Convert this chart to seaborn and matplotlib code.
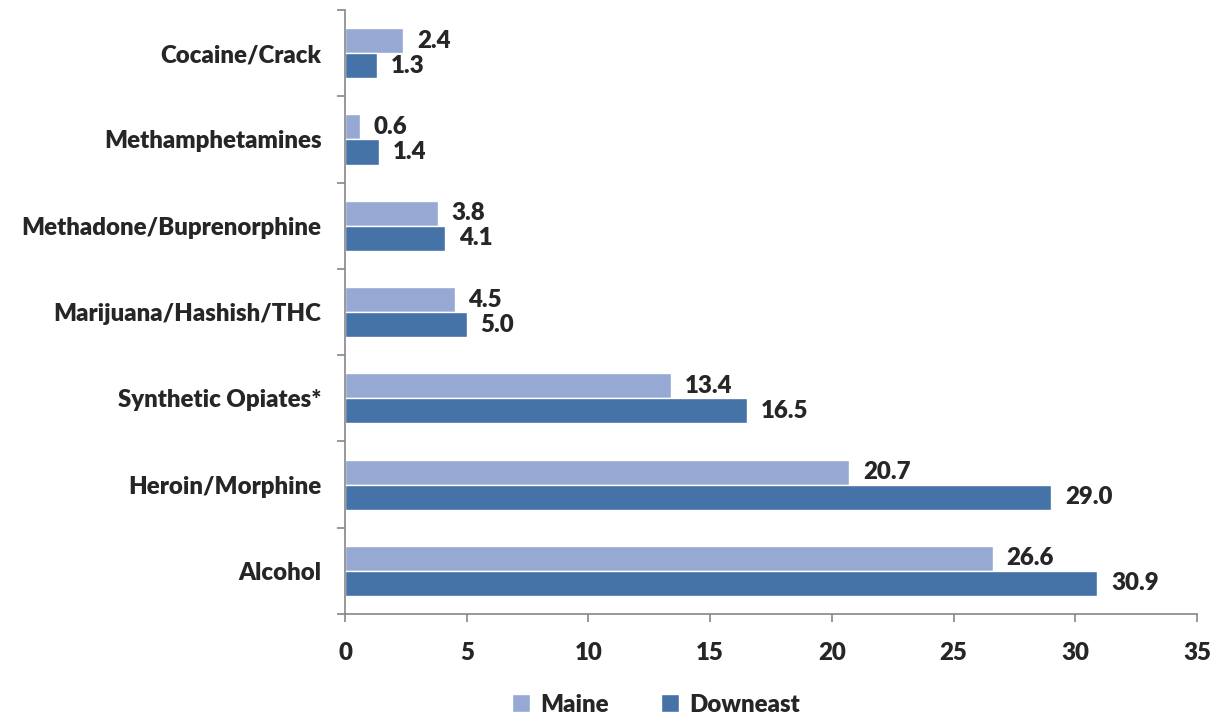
import pandas as pd
import numpy as np
import matplotlib.pyplot as plt
import seaborn as sns
from matplotlib.ticker import FixedLocator

categories = ["Cocaine/Crack", "Methamphetamines", "Methadone/Buprenorphine",
              "Marijuana/Hashish/THC", "Synthetic Opiates*", "Heroin/Morphine", "Alcohol"]
maine = [2.4, 0.6, 3.8, 4.5, 13.4, 20.7, 26.6]
downeast = [1.3, 1.4, 4.1, 5.0, 16.5, 29.0, 30.9]
series = ["Maine", "Downeast"]
colors = ["#95A9D2", "#4572A7"]

df = pd.DataFrame({
    "drug": categories * 2,
    "value": maine + downeast,
    "series": ["Maine"] * len(categories) + ["Downeast"] * len(categories),
})

sns.set_style("white")
plt.rcParams['font.family'] = ['Lato', 'DejaVu Sans']
FW = "heavy"
FS = 17.3

fig = plt.figure(figsize=(12.17, 7.19), dpi=100)
ax = fig.add_axes([0.2835, 0.146, 0.7001, 0.84])

sns.barplot(data=df, x="value", y="drug", hue="series", hue_order=series,
            palette=colors, orient="h", width=0.58, saturation=1, ax=ax)

for cont in ax.containers:
    ax.bar_label(cont, fmt="%.1f", padding=10, fontsize=FS, fontweight=FW)

ax.set_xlim(0, 35)
ax.set_ylim(len(categories) - 0.5, -0.5)
ax.set_xticks(np.arange(0, 36, 5))
ax.yaxis.set_minor_locator(FixedLocator(np.arange(-0.5, len(categories), 1)))
ax.tick_params(axis="y", which="major", left=False, length=0, pad=17, labelsize=FS)
ax.tick_params(axis="y", which="minor", left=True, length=6, color="#868686", width=1.2, direction="out")
ax.tick_params(axis="x", bottom=True, length=6, color="#868686", width=1.2, direction="out", pad=14, labelsize=FS)
for lab in ax.get_xticklabels() + ax.get_yticklabels():
    lab.set_fontweight(FW)

ax.set_xlabel("")
ax.set_ylabel("")
for s in ["top", "right"]:
    ax.spines[s].set_visible(False)
for s in ["left", "bottom"]:
    ax.spines[s].set_color("#868686")
    ax.spines[s].set_linewidth(1.2)

handles, labels = ax.get_legend_handles_labels()
ax.get_legend().remove()
fig.legend(handles, labels, loc="center", bbox_to_anchor=(0.539, 0.02), ncol=2, frameon=False,
           prop={"weight": FW, "size": FS}, handlelength=0.75, handleheight=0.75,
           columnspacing=2.2, handletextpad=0.4)

fig.savefig("out.png", dpi=100)
